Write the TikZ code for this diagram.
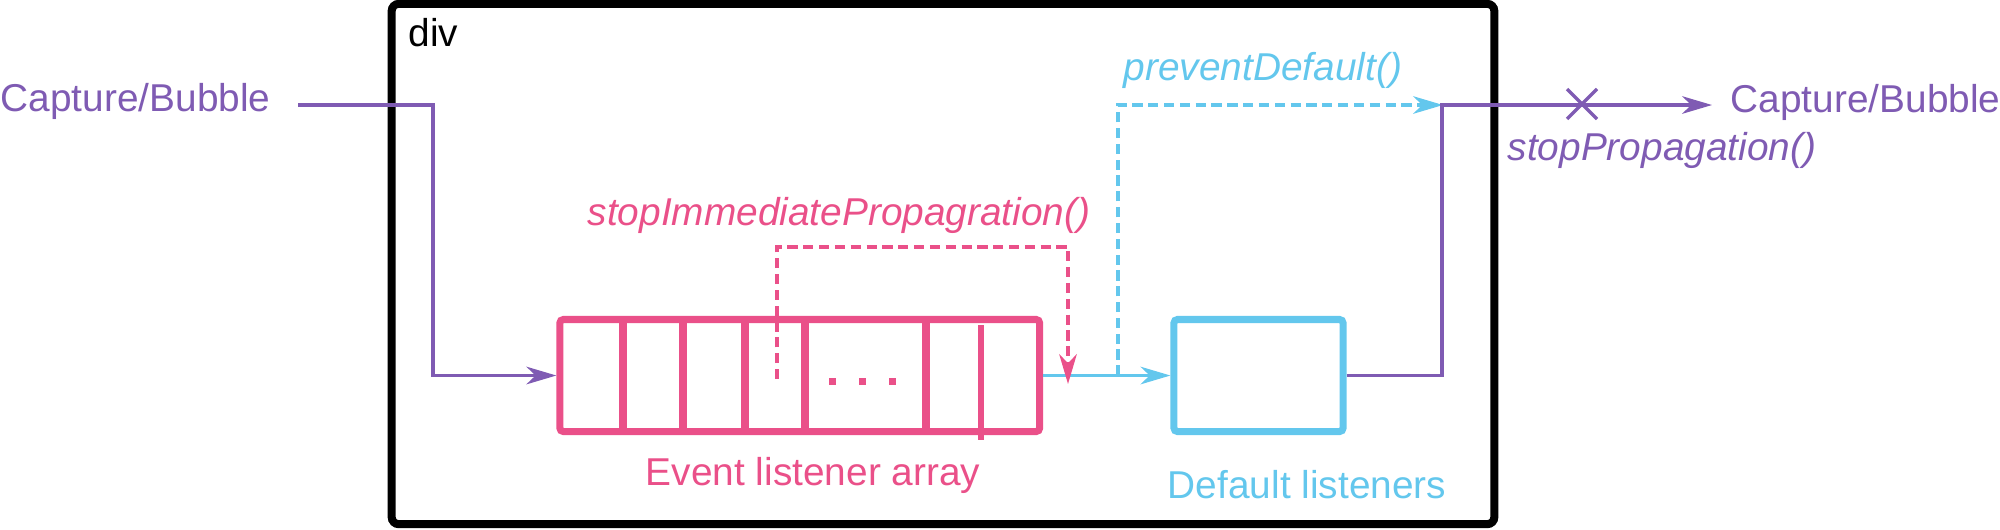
\documentclass[tikz,border=0pt]{standalone}
\usepackage{fontspec}
\setmainfont{Liberation Sans}
\usetikzlibrary{arrows.meta,calc}
\definecolor{purp}{RGB}{127,91,179}
\definecolor{pinkc}{RGB}{234,80,137}
\definecolor{bluec}{RGB}{99,199,237}
\begin{document}
\begin{tikzpicture}[x=0.01cm,y=-0.01cm,
  txt/.style={inner sep=0pt, anchor=base west, font=\fontsize{11.04pt}{13pt}\selectfont},
  itxt/.style={inner sep=0pt, anchor=base west, font=\itshape\fontsize{11.04pt}{13pt}\selectfont},
  tipa/.style={-{Stealth[length=8.5pt,width=5pt,inset=2.6pt]}},
  thin line/.style={line width=0.95pt},
  dashline/.style={line width=0.9pt, dash pattern=on 2.9pt off 1.6pt},
  boxnode/.style={draw, line width=2pt, rounded corners=1pt, inner sep=0pt, minimum height=1.12cm}
]
\useasboundingbox (0,0) rectangle (2000,529);
% div container
\node[draw, line width=2.28pt, rounded corners=2pt, inner sep=0pt,
      minimum width=11.02cm, minimum height=5.2cm] (divbox) at (943,264) {};
\node[txt] (divlabel) at (408,46) {div};
% texts
\node[txt, text=purp] (leftcb) at (0,111) {Capture/Bubble};
\node[txt, text=purp] (rightcb) at (1730,112) {Capture/Bubble};
\node[itxt, text=purp] (stopprop) at (1507,160) {stopPropagation()};
\node[itxt, text=bluec] (prevdef) at (1123,80) {preventDefault()};
\node[itxt, text=pinkc] (stopimm) at (587,225) {stopImmediatePropagration()};
\node[txt, anchor=base, text=pinkc] (arrlabel) at (813,485) {Event listener array};
\node[txt, anchor=base, text=bluec] (deflabel) at (1307,498) {Default listeners};
% event listener array
\node[boxnode, draw=pinkc, minimum width=4.795cm] (arr) at (799.75,375.5) {};
\foreach \xx in {623,683,745,805,926}
  \draw[pinkc, line width=2pt] (\xx,320) -- (\xx,431);
\draw[pinkc, line width=1.8pt] (981,325) -- (981,440);
\foreach \xx in {832,862,892}
  \fill[pinkc] (\xx-3.5,377.5) rectangle (\xx+3.5,384.5);
% default listeners box
\node[boxnode, draw=bluec, minimum width=1.69cm] (def) at (1258.5,375.5) {};
% coordinates
\coordinate (inL) at (298,105);
\coordinate (inC) at (433,105);
\coordinate (sL) at (777,379);
\coordinate (sTR) at (1068,247);
\coordinate (sTip) at (1068,384);
\coordinate (bB) at (1118,375.5);
\coordinate (bTip) at (1443,105);
\coordinate (pC) at (1442,105);
\coordinate (outTip) at (1712,105);
\coordinate (xm) at (1582,104);
% purple incoming
\draw[purp, thin line, tipa] (inL) -- (inC) |- (arr.west);
% blue from array to default
\draw[bluec, thin line, tipa] (arr.east) -- (def.west);
% pink dashed stopImmediatePropagation
\draw[pinkc, dashline, tipa] (sL) |- (sTR) -- (sTip);
% blue dashed preventDefault
\draw[bluec, dashline, tipa] (bB) |- (bTip);
% purple out
\draw[purp, thin line, tipa] (def.east) -| (pC) -- (outTip);
% X mark
\draw[purp, thin line] ($(xm)+(-15,-15)$) -- ($(xm)+(15,15)$) ($(xm)+(-15,15)$) -- ($(xm)+(15,-15)$);
\end{tikzpicture}
\end{document}
